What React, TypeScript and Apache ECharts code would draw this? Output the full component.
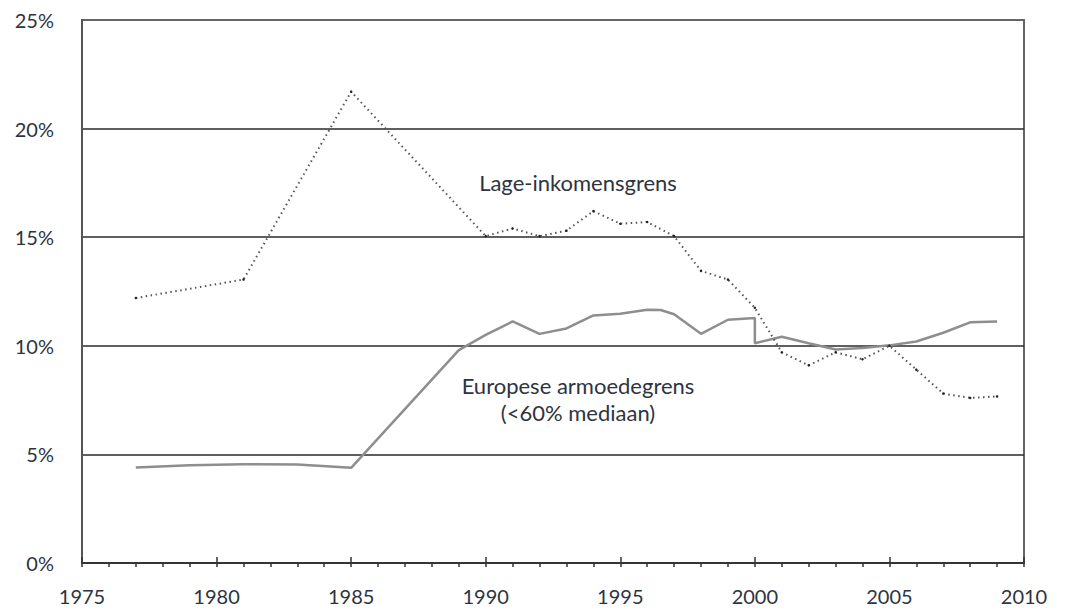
import React, { useEffect, useRef } from "react";
import * as echarts from "echarts";

// Lage-inkomensgrens (dotted)
const lowIncomeYears = [1977, 1981, 1985, 1990, 1991, 1992, 1993, 1994, 1995, 1996, 1997, 1998, 1999, 2000, 2001, 2002, 2003, 2004, 2005, 2006, 2007, 2008, 2009];
const lowIncomeValues = [12.2, 13.05, 21.7, 15.05, 15.4, 15.05, 15.3, 16.2, 15.62, 15.7, 15.05, 13.45, 13.05, 11.75, 9.7, 9.1, 9.7, 9.38, 10.0, 8.9, 7.8, 7.6, 7.67];

// Europese armoedegrens (<60% mediaan) (solid)
const euYears = [1977, 1979, 1981, 1983, 1985, 1989, 1990, 1991, 1992, 1993, 1994, 1995, 1996, 1996.5, 1997, 1998, 1999, 2000, 2000, 2001, 2002, 2003, 2004, 2005, 2006, 2007, 2008, 2009];
const euValues = [4.4, 4.5, 4.55, 4.54, 4.38, 9.8, 10.5, 11.12, 10.55, 10.8, 11.4, 11.48, 11.66, 11.65, 11.45, 10.55, 11.2, 11.28, 10.12, 10.42, 10.12, 9.83, 9.9, 10.02, 10.2, 10.6, 11.08, 11.12];

const xMin = 1975;
const xMax = 2010;
const xStep = 5;
const yMin = 0;
const yMax = 25;
const yStep = 5;

const labelLow = "Lage-inkomensgrens";
const labelEu1 = "Europese armoedegrens";
const labelEu2 = "(<60% mediaan)";

const FONT = "Lato, 'Open Sans', sans-serif";
const TXT = "#2d3440";

export default function App() {
  const ref = useRef<HTMLDivElement>(null);
  useEffect(() => {
    if (!ref.current) return;
    const chart = echarts.init(ref.current, null, { renderer: "svg" });
    const lowData = lowIncomeYears.map((y, i) => [y, lowIncomeValues[i]]);
    const euData = euYears.map((y, i) => [y, euValues[i]]);
    chart.setOption({
      animation: false,
      backgroundColor: "#ffffff",
      grid: {
        left: 82,
        right: 42,
        top: 20,
        bottom: 49,
        show: true,
        borderColor: "#666666",
        borderWidth: 2,
        backgroundColor: "transparent",
      },
      xAxis: [
        {
          type: "value",
          min: xMin,
          max: xMax,
          interval: xStep,
          position: "bottom",
          axisLine: { show: true, lineStyle: { color: "#333333", width: 1.5 } },
          axisTick: { show: true, length: 4, lineStyle: { color: "#333333", width: 1.5 } },
          minorTick: { show: true, splitNumber: 5, length: 4, lineStyle: { color: "#333333", width: 1.5 } },
          splitLine: { show: false },
          axisLabel: {
            margin: 23,
            fontFamily: FONT,
            fontSize: 20,
            color: TXT,
            formatter: (v: number) => String(v),
          },
        },
        {
          type: "value",
          min: xMin,
          max: xMax,
          interval: xStep,
          position: "bottom",
          axisLine: { show: false },
          axisTick: { show: true, inside: true, length: 6, lineStyle: { color: "#333333", width: 1.5 } },
          splitLine: { show: false },
          axisLabel: { show: false },
        },
      ],
      yAxis: {
        type: "value",
        min: yMin,
        max: yMax,
        interval: yStep,
        axisLine: { show: true, lineStyle: { color: "#555555", width: 2 } },
        axisTick: { show: false },
        splitLine: {
          show: true,
          lineStyle: {
            color: ["#333333", "#2a2a2a", "#2a2a2a", "#2a2a2a", "#2a2a2a", "#666666"],
            width: 1.5,
          },
        },
        axisLabel: {
          margin: 28,
          fontFamily: FONT,
          fontSize: 20,
          color: TXT,
          formatter: (v: number) => v + "%",
        },
      },
      series: [
        {
          type: "line",
          name: labelLow,
          data: lowData,
          showSymbol: true,
          symbol: "circle",
          symbolSize: 2.5,
          itemStyle: { color: "#222222" },
          lineStyle: { color: "#555555", width: 2, type: [1.5, 3.5] },
          z: 3,
        },
        {
          type: "line",
          name: labelEu1,
          data: euData,
          showSymbol: false,
          symbol: "none",
          lineStyle: { color: "#8e8e8e", width: 2.5 },
          z: 2,
        },
      ],
      graphic: [
        {
          type: "text",
          x: 578,
          y: 182,
          style: { text: labelLow, fontFamily: FONT, fontSize: 22, fill: TXT, align: "center", verticalAlign: "middle" },
        },
        {
          type: "text",
          x: 578,
          y: 385,
          style: { text: labelEu1, fontFamily: FONT, fontSize: 22, fill: TXT, align: "center", verticalAlign: "middle" },
        },
        {
          type: "text",
          x: 578,
          y: 412,
          style: { text: labelEu2, fontFamily: FONT, fontSize: 22, fill: TXT, align: "center", verticalAlign: "middle" },
        },
      ],
    });
    return () => chart.dispose();
  }, []);
  return (
    <div
      ref={ref}
      style={{ position: "fixed", left: 0, top: 0, width: 1066, height: 612, background: "#fff" }}
    />
  );
}
